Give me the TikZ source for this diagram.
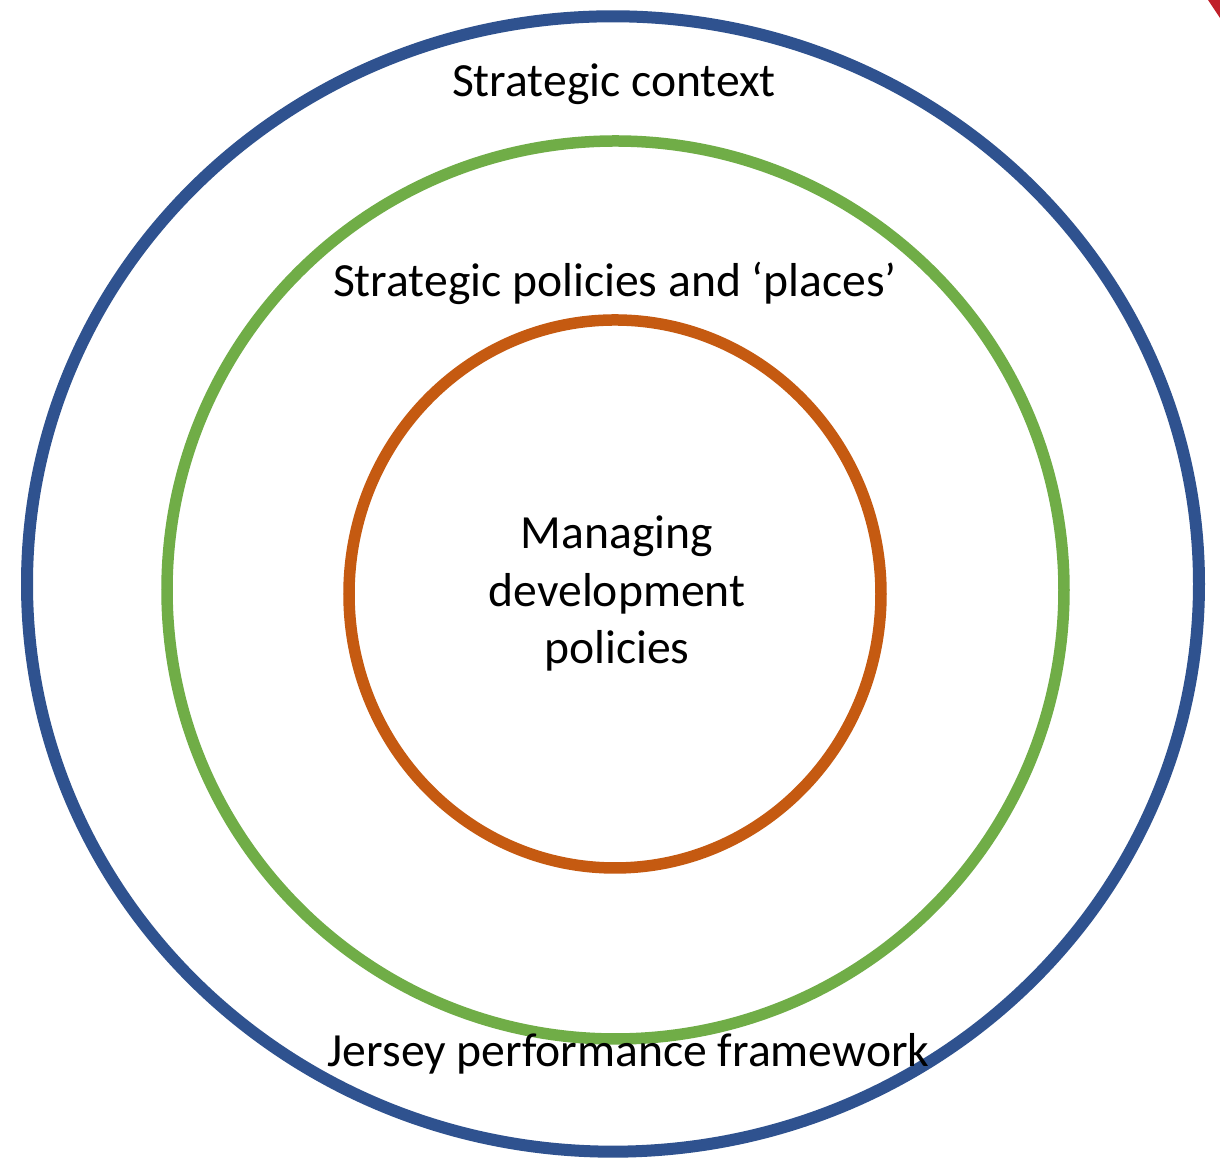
\documentclass[tikz,border=0pt]{standalone}
\usepackage{fontspec}
\setmainfont{Carlito}
\definecolor{ringblue}{HTML}{2F528F}
\definecolor{ringgreen}{HTML}{70AD47}
\definecolor{ringorange}{HTML}{C55A11}
\definecolor{cornerred}{HTML}{C0202A}
\begin{document}
\begin{tikzpicture}[
  ring/.style={line width=0.115cm},
  label/.style={inner sep=0pt, font=\fontsize{13.55pt}{16.4pt}\selectfont, text=black}
]
\useasboundingbox (0,0) rectangle (12.2,11.58);
\fill[white] (0,0) rectangle (12.2,11.58);
% rings
\draw[ring, ringblue, line width=0.12cm] (6.13,5.74) ellipse [x radius=5.86, y radius=5.677];
\draw[ring, ringgreen] (6.155,5.68) ellipse [x radius=4.485, y radius=4.49];
\draw[ring, ringorange] (6.15,5.64) ellipse [x radius=2.66, y radius=2.74];
% corner fragment
\fill[cornerred] (12.08,11.58) -- (12.2,11.58) -- (12.2,11.40) -- cycle;
% labels
\node[label, anchor=base] (ctx) at (6.14,10.61) {Strategic context};
\node[label, anchor=base] (pol) at (6.15,8.61) {Strategic policies and ‘places’};
\node[label, align=center, anchor=center] (mdp) at (6.17,5.645) {Managing\\development\\policies};
\node[label, anchor=base] (jpf) at (6.285,0.91) {Jersey performance framework};
\end{tikzpicture}
\end{document}
